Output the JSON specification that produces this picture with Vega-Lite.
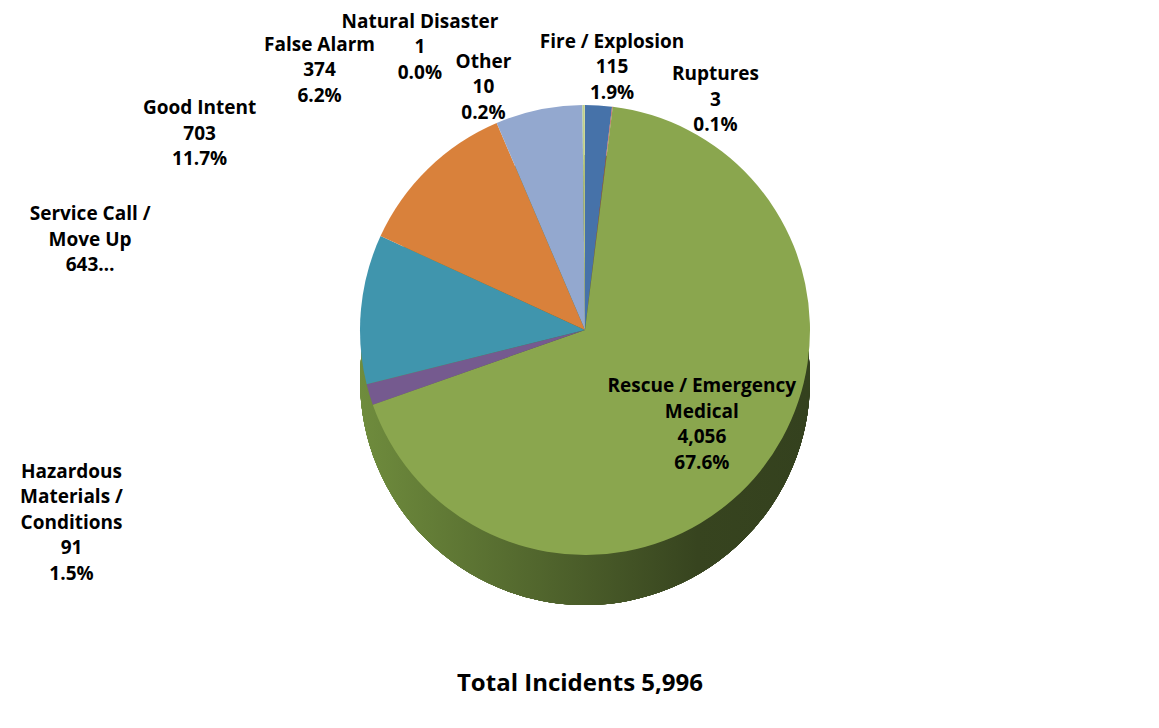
{
  "$schema": "https://vega.github.io/schema/vega-lite/v6.json",
  "width": 1148,
  "height": 660,
  "autosize": "none",
  "padding": {"left": 11, "top": 0, "right": 0, "bottom": 68},
  "background": "white",
  "config": {"view": {"stroke": null}},
  "title": {
    "text": "Total Incidents 5,996",
    "orient": "bottom",
    "anchor": "middle",
    "frame": "group",
    "font": "Open Sans",
    "fontSize": 24,
    "fontWeight": "bold",
    "color": "black",
    "offset": 12,
    "dx": -5
  },
  "data": {
    "values": [
      {"category": "Fire / Explosion", "incidents": 115, "label": "Fire / Explosion\n115\n1.9%"},
      {"category": "Ruptures", "incidents": 3, "label": "Ruptures\n3\n0.1%"},
      {"category": "Rescue / Emergency Medical", "incidents": 4056, "label": "Rescue / Emergency\nMedical\n4,056\n67.6%"},
      {"category": "Hazardous Materials / Conditions", "incidents": 91, "label": "Hazardous\nMaterials /\nConditions\n91\n1.5%"},
      {"category": "Service Call / Move Up", "incidents": 643, "label": "Service Call /\nMove Up\n643…"},
      {"category": "Good Intent", "incidents": 703, "label": "Good Intent\n703\n11.7%"},
      {"category": "False Alarm", "incidents": 374, "label": "False Alarm\n374\n6.2%"},
      {"category": "Other", "incidents": 10, "label": "Other\n10\n0.2%"},
      {"category": "Natural Disaster", "incidents": 1, "label": "Natural Disaster\n1\n0.0%"}
    ]
  },
  "transform": [{"window": [{"op": "row_number", "as": "idx"}]}],
  "layer": [
    {
      "mark": {
        "type": "arc", "outerRadius": 225, "yOffset": 50, "theta": 0, "theta2": 6.2832, "stroke": null,
        "fill": {"gradient": "linear", "x1": 0, "y1": 0, "x2": 1, "y2": 0,
          "stops": [{"offset": 0, "color": "#6F8C3D"}, {"offset": 0.75, "color": "#37441F"}, {"offset": 1, "color": "#34411E"}]}
      },
      "encoding": {}
    },
    {
      "mark": {"type": "arc", "outerRadius": 225, "stroke": null},
      "encoding": {
        "theta": {"field": "incidents", "type": "quantitative", "stack": true},
        "order": {"field": "idx", "type": "quantitative"},
        "color": {
          "field": "category", "type": "nominal", "legend": null,
          "scale": {
            "domain": ["Fire / Explosion", "Ruptures", "Rescue / Emergency Medical", "Hazardous Materials / Conditions", "Service Call / Move Up", "Good Intent", "False Alarm", "Other", "Natural Disaster"],
            "range": ["#4672A9", "#C0504D", "#8AA64E", "#755A8F", "#4095AD", "#D9813B", "#93A8CF", "#BDD08C", "#D8C98A"]
          }
        }
      }
    },
    {
      "mark": {"type": "text", "radius": 250, "dx": 12, "dy": -38.5, "font": "Open Sans", "fontSize": 19, "fontWeight": "bold", "lineBreak": "\n", "lineHeight": 25.5, "align": "center", "baseline": "middle", "fill": "black"},
      "encoding": {
        "theta": {"field": "incidents", "type": "quantitative", "stack": true},
        "order": {"field": "idx", "type": "quantitative"},
        "detail": {"field": "category", "type": "nominal"},
        "text": {"condition": {"test": "datum.category === 'Fire / Explosion'", "field": "label", "type": "nominal"}, "value": ""}
      }
    },
    {
      "mark": {"type": "text", "radius": 250, "dx": 100, "dy": -7.5, "font": "Open Sans", "fontSize": 19, "fontWeight": "bold", "lineBreak": "\n", "lineHeight": 25.5, "align": "center", "baseline": "middle", "fill": "black"},
      "encoding": {
        "theta": {"field": "incidents", "type": "quantitative", "stack": true},
        "order": {"field": "idx", "type": "quantitative"},
        "detail": {"field": "category", "type": "nominal"},
        "text": {"condition": {"test": "datum.category === 'Ruptures'", "field": "label", "type": "nominal"}, "value": ""}
      }
    },
    {
      "mark": {"type": "text", "radius": 150, "dx": 0, "dy": -38, "font": "Open Sans", "fontSize": 19, "fontWeight": "bold", "lineBreak": "\n", "lineHeight": 25.5, "align": "center", "baseline": "middle", "fill": "black"},
      "encoding": {
        "theta": {"field": "incidents", "type": "quantitative", "stack": true},
        "order": {"field": "idx", "type": "quantitative"},
        "detail": {"field": "category", "type": "nominal"},
        "text": {"condition": {"test": "datum.category === 'Rescue / Emergency Medical'", "field": "label", "type": "nominal"}, "value": ""}
      }
    },
    {
      "mark": {"type": "text", "radius": 250, "dx": -274, "dy": 70, "font": "Open Sans", "fontSize": 19, "fontWeight": "bold", "lineBreak": "\n", "lineHeight": 25.5, "align": "center", "baseline": "middle", "fill": "black"},
      "encoding": {
        "theta": {"field": "incidents", "type": "quantitative", "stack": true},
        "order": {"field": "idx", "type": "quantitative"},
        "detail": {"field": "category", "type": "nominal"},
        "text": {"condition": {"test": "datum.category === 'Hazardous Materials / Conditions'", "field": "label", "type": "nominal"}, "value": ""}
      }
    },
    {
      "mark": {"type": "text", "radius": 250, "dx": -246, "dy": -92.5, "font": "Open Sans", "fontSize": 19, "fontWeight": "bold", "lineBreak": "\n", "lineHeight": 25.5, "align": "center", "baseline": "middle", "fill": "black"},
      "encoding": {
        "theta": {"field": "incidents", "type": "quantitative", "stack": true},
        "order": {"field": "idx", "type": "quantitative"},
        "detail": {"field": "category", "type": "nominal"},
        "text": {"condition": {"test": "datum.category === 'Service Call / Move Up'", "field": "label", "type": "nominal"}, "value": ""}
      }
    },
    {
      "mark": {"type": "text", "radius": 250, "dx": -211, "dy": -42.5, "font": "Open Sans", "fontSize": 19, "fontWeight": "bold", "lineBreak": "\n", "lineHeight": 25.5, "align": "center", "baseline": "middle", "fill": "black"},
      "encoding": {
        "theta": {"field": "incidents", "type": "quantitative", "stack": true},
        "order": {"field": "idx", "type": "quantitative"},
        "detail": {"field": "category", "type": "nominal"},
        "text": {"condition": {"test": "datum.category === 'Good Intent'", "field": "label", "type": "nominal"}, "value": ""}
      }
    },
    {
      "mark": {"type": "text", "radius": 250, "dx": -214, "dy": -40.5, "font": "Open Sans", "fontSize": 19, "fontWeight": "bold", "lineBreak": "\n", "lineHeight": 25.5, "align": "center", "baseline": "middle", "fill": "black"},
      "encoding": {
        "theta": {"field": "incidents", "type": "quantitative", "stack": true},
        "order": {"field": "idx", "type": "quantitative"},
        "detail": {"field": "category", "type": "nominal"},
        "text": {"condition": {"test": "datum.category === 'False Alarm'", "field": "label", "type": "nominal"}, "value": ""}
      }
    },
    {
      "mark": {"type": "text", "radius": 250, "dx": -100, "dy": -18.5, "font": "Open Sans", "fontSize": 19, "fontWeight": "bold", "lineBreak": "\n", "lineHeight": 25.5, "align": "center", "baseline": "middle", "fill": "black"},
      "encoding": {
        "theta": {"field": "incidents", "type": "quantitative", "stack": true},
        "order": {"field": "idx", "type": "quantitative"},
        "detail": {"field": "category", "type": "nominal"},
        "text": {"condition": {"test": "datum.category === 'Other'", "field": "label", "type": "nominal"}, "value": ""}
      }
    },
    {
      "mark": {"type": "text", "radius": 250, "dx": -165, "dy": -58.5, "font": "Open Sans", "fontSize": 19, "fontWeight": "bold", "lineBreak": "\n", "lineHeight": 25.5, "align": "center", "baseline": "middle", "fill": "black"},
      "encoding": {
        "theta": {"field": "incidents", "type": "quantitative", "stack": true},
        "order": {"field": "idx", "type": "quantitative"},
        "detail": {"field": "category", "type": "nominal"},
        "text": {"condition": {"test": "datum.category === 'Natural Disaster'", "field": "label", "type": "nominal"}, "value": ""}
      }
    }
  ]
}
